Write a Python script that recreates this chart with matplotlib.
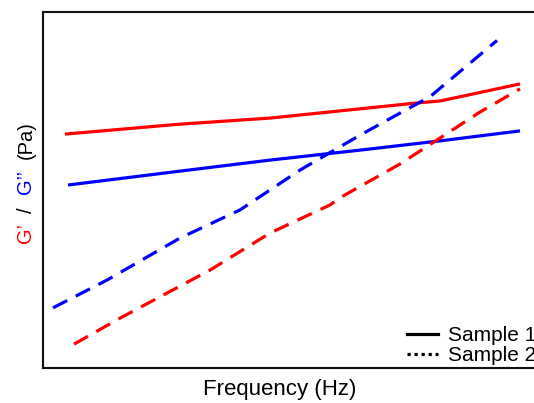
import matplotlib
matplotlib.use("Agg")
import matplotlib.pyplot as plt
from matplotlib.lines import Line2D

plt.rcParams['font.family'] = ['Liberation Sans', 'DejaVu Sans']

# frequency (arbitrary units) and moduli (arbitrary units)
freq_s1_gp = [0.44, 2.74, 4.54, 6.34, 7.44, 7.94, 9.54]
s1_gp = [6.57, 6.85, 7.02, 7.28, 7.44, 7.50, 7.98]

freq_s1_gpp = [0.50, 2.74, 4.54, 6.34, 7.94, 9.54]
s1_gpp = [5.14, 5.53, 5.84, 6.12, 6.38, 6.66]

freq_s2_gpp = [0.20, 1.28, 2.74, 3.94, 5.14, 6.34, 7.14, 7.74, 9.08]
s2_gpp = [1.69, 2.47, 3.65, 4.44, 5.56, 6.54, 7.16, 7.62, 9.20]

freq_s2_gp = [0.62, 1.54, 2.86, 3.34, 4.54, 5.74, 6.00, 7.14, 7.94, 8.74, 9.54]
s2_gp = [0.67, 1.40, 2.39, 2.75, 3.79, 4.58, 4.83, 5.73, 6.46, 7.19, 7.84]

W, H = 534, 403
fig = plt.figure(figsize=(W / 100, H / 100), dpi=100)
ax = fig.add_axes([43 / W, 35 / H, (560 - 43) / W, (368 - 12) / H])

lw = 2.3
dash = (0, (5, 3))
ax.plot(freq_s1_gp, s1_gp, color='#ff0000', lw=lw, solid_capstyle='butt')
ax.plot(freq_s1_gpp, s1_gpp, color='#0000ff', lw=lw, solid_capstyle='butt')
ax.plot(freq_s2_gpp, s2_gpp, color='#0000ff', lw=lw, linestyle=dash, dash_capstyle='butt')
ax.plot(freq_s2_gp, s2_gp, color='#ff0000', lw=lw, linestyle=dash, dash_capstyle='butt')

ax.set_xlim(0, (560 - 43) / 50)
ax.set_ylim(0, 10)
ax.set_xticks([])
ax.set_yticks([])
for sp in ax.spines.values():
    sp.set_linewidth(1.5)
    sp.set_color('#111111')

handles = [Line2D([], [], color='black', lw=lw, linestyle='-'),
           Line2D([], [], color='black', lw=lw, linestyle=(0, (1.0, 1.2)))]
fig.legend(handles, ['Sample 1', 'Sample 2'], loc='upper left',
           bbox_to_anchor=(407 / W, 1 - 326 / H), frameon=False,
           fontsize=15, borderpad=0, borderaxespad=0, handlelength=1.5,
           handletextpad=0.45, labelspacing=0.05)

fig.text(280 / W, 1 - 390 / H, 'Frequency (Hz)', ha='center', va='center', fontsize=16)

ylab = [("G’", '#ff0000', 233), ('/', 'black', 210), ("G’’", '#0000ff', 182), ('(Pa)', 'black', 140)]
for txt, col, py in ylab:
    fig.text(26 / W, 1 - py / H, txt, color=col, rotation=90, ha='center', va='center', fontsize=14.5)

fig.savefig('out.png', dpi=100)
